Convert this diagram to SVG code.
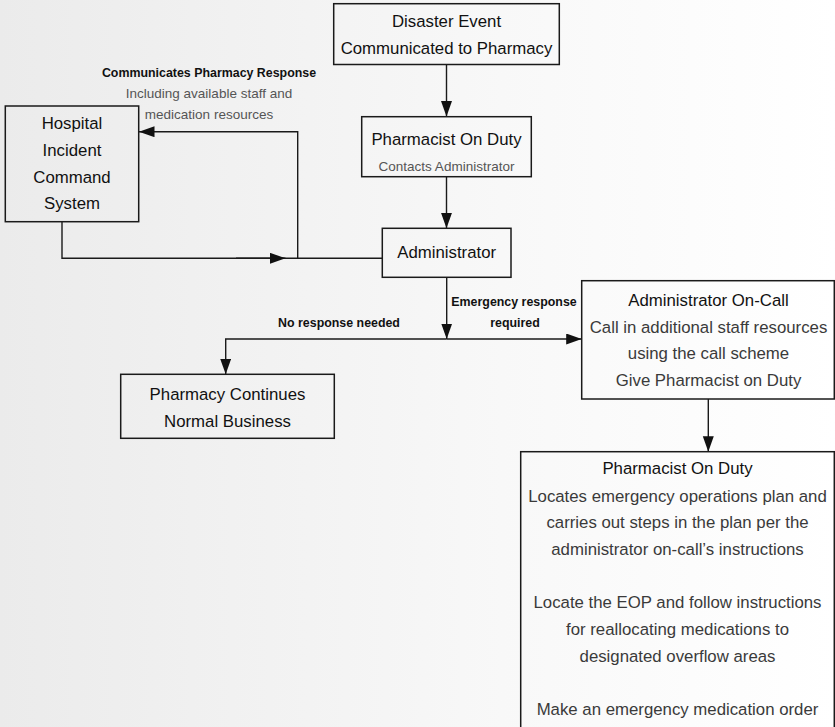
<svg xmlns="http://www.w3.org/2000/svg" width="835" height="727" viewBox="0 0 835 727">
<defs>
<linearGradient id="bg" x1="0" y1="0" x2="1" y2="0">
<stop offset="0" stop-color="#ebebeb"/>
<stop offset="0.6" stop-color="#f8f8f8"/>
<stop offset="1" stop-color="#ffffff"/>
</linearGradient>
<marker id="arr" markerUnits="userSpaceOnUse" markerWidth="16" markerHeight="12" refX="15.5" refY="5.5" orient="auto">
<path d="M0,0 L15.5,5.5 L0,11 z" fill="#111"/>
</marker>
<style>
.box{fill:none;stroke:#1a1a1a;stroke-width:1.5}
.t{font-family:"Liberation Sans",Arial,sans-serif;font-size:16.8px;fill:#111;text-anchor:middle}
.b{font-family:"Liberation Sans",Arial,sans-serif;font-size:16.8px;fill:#3a3a3a;text-anchor:middle}
.s{font-family:"Liberation Sans",Arial,sans-serif;font-size:13.5px;fill:#555;text-anchor:middle}
.l{font-family:"Liberation Sans",Arial,sans-serif;font-size:12.4px;font-weight:bold;fill:#111;text-anchor:middle}
.c{fill:none;stroke:#1a1a1a;stroke-width:1.4}
</style>
</defs>
<rect x="0" y="0" width="835" height="727" fill="url(#bg)"/>

<g id="connectors">
<path class="c" d="M446.5,64.5 V116.5" marker-end="url(#arr)"/>
<path class="c" d="M446.5,176.7 V228.3" marker-end="url(#arr)"/>
<path class="c" d="M62,221.7 V258.3 H382.3"/>
<path class="c" d="M236,258.3 H285.5" stroke-width="2" marker-end="url(#arr)"/>
<path class="c" d="M297.7,258.3 V131.7 H139" marker-end="url(#arr)"/>
<path class="c" d="M446.7,277.3 V339" marker-end="url(#arr)"/>
<path class="c" d="M446.7,339 H581.7" marker-end="url(#arr)"/>
<path class="c" d="M446.7,339 H225.7 V374.3" marker-end="url(#arr)"/>
<path class="c" d="M708.3,399 V451.7" marker-end="url(#arr)"/>
</g>

<g id="labels">
<text class="l" x="209" y="77.3">Communicates Pharmacy Response</text>
<text class="s" x="209" y="98.3">Including available staff and</text>
<text class="s" x="209" y="119">medication resources</text>
<text class="l" x="339" y="326.7">No response needed</text>
<text class="l" x="514" y="306">Emergency response</text>
<text class="l" x="515" y="326.7">required</text>
</g>

<g id="disaster">
<rect class="box" x="333.7" y="3.7" width="225.6" height="60.8"/>
<text class="t" x="446.5" y="27">Disaster Event</text>
<text class="t" x="446.5" y="54">Communicated to Pharmacy</text>
</g>

<g id="pharmacist1">
<rect class="box" x="361.7" y="116.7" width="169.6" height="60"/>
<text class="t" x="446.5" y="144.5">Pharmacist On Duty</text>
<text class="s" x="446.5" y="170.5">Contacts Administrator</text>
</g>

<g id="administrator">
<rect class="box" x="382.3" y="228.3" width="128.7" height="49"/>
<text class="t" x="446.7" y="258.3">Administrator</text>
</g>

<g id="hics">
<rect class="box" x="5.3" y="106" width="133.4" height="115.7"/>
<text class="t" x="72" y="129">Hospital</text>
<text class="t" x="72" y="156">Incident</text>
<text class="t" x="72" y="182.7">Command</text>
<text class="t" x="72" y="209.3">System</text>
</g>

<g id="continues">
<rect class="box" x="120.7" y="374.3" width="213.6" height="64"/>
<text class="t" x="227.5" y="400">Pharmacy Continues</text>
<text class="t" x="227.5" y="426.7">Normal Business</text>
</g>

<g id="oncall">
<rect class="box" x="581.7" y="280.7" width="252.6" height="118.3"/>
<text class="t" x="708.5" y="306">Administrator On-Call</text>
<text class="b" x="708.5" y="332.7">Call in additional staff resources</text>
<text class="b" x="708.5" y="359">using the call scheme</text>
<text class="b" x="708.5" y="385.7">Give Pharmacist on Duty</text>
</g>

<g id="pharmacist2">
<rect class="box" x="520.7" y="451.7" width="313.6" height="300"/>
<text class="t" x="677.5" y="473.5">Pharmacist On Duty</text>
<text class="b" x="677.5" y="501.5">Locates emergency operations plan and</text>
<text class="b" x="677.5" y="528.3">carries out steps in the plan per the</text>
<text class="b" x="677.5" y="555">administrator on-call’s instructions</text>
<text class="b" x="677.5" y="608.3">Locate the EOP and follow instructions</text>
<text class="b" x="677.5" y="635">for reallocating medications to</text>
<text class="b" x="677.5" y="661.7">designated overflow areas</text>
<text class="b" x="677.5" y="715">Make an emergency medication order</text>
</g>
</svg>
